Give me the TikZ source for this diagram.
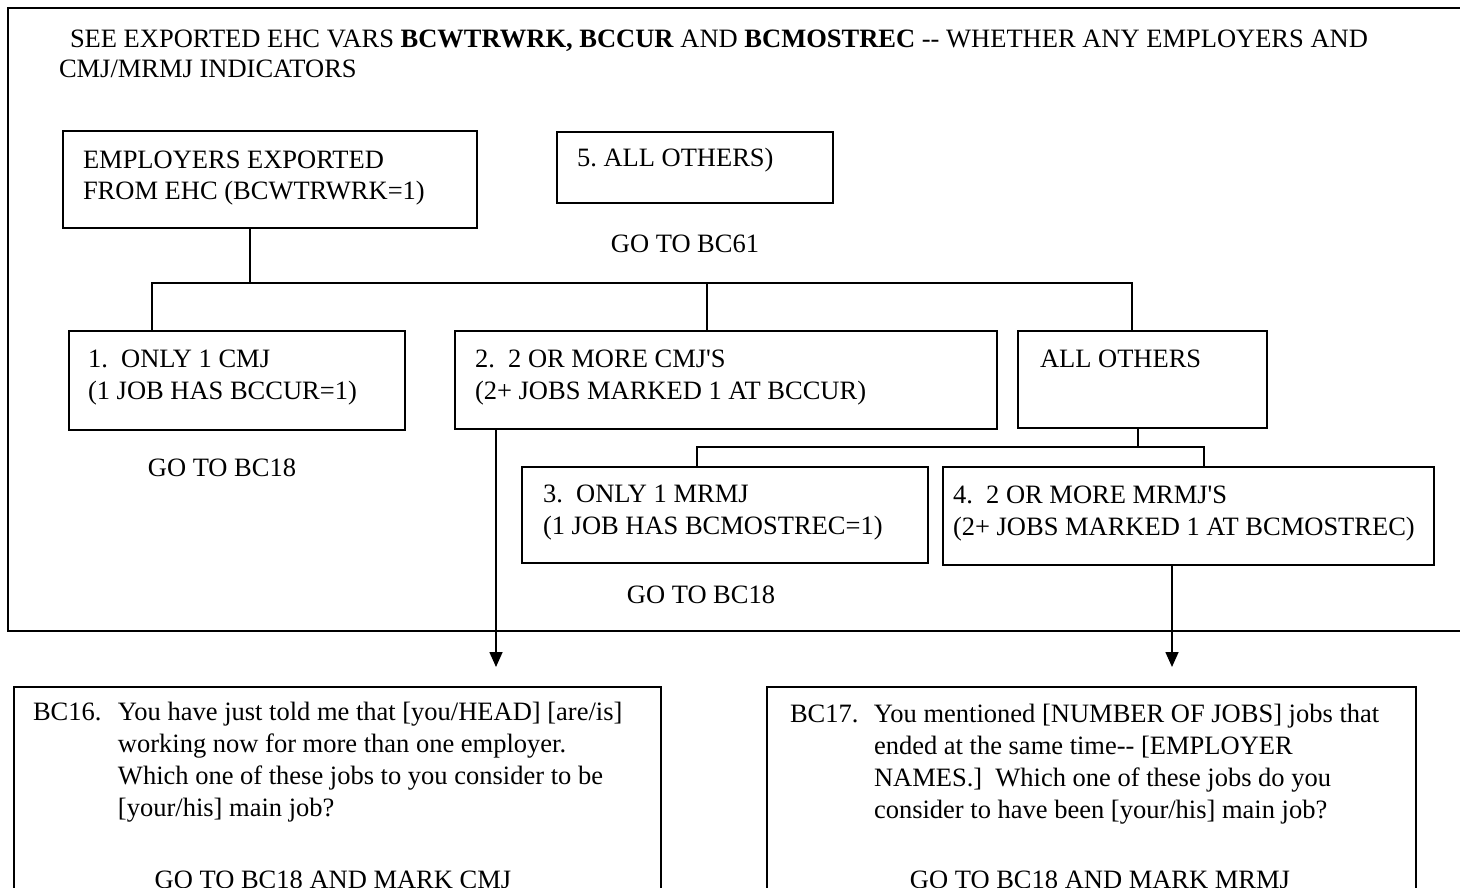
\documentclass[tikz,border=0pt]{standalone}
\usepackage{fontspec}
\setmainfont{Liberation Serif}
\usetikzlibrary{arrows.meta}
\frenchspacing
\begin{document}
\begin{tikzpicture}[x=1pt,y=-1pt,
  every node/.style={inner sep=0pt,outer sep=0pt},
  bx/.style={draw,line width=1.6pt,rectangle,anchor=north west},
  txt/.style={anchor=base west,font=\fontsize{26.5}{32}\selectfont},
  ctxt/.style={anchor=base,font=\fontsize{26.5}{32}\selectfont},
  ln/.style={line width=1.6pt},
  arr/.style={line width=1.6pt,-{Triangle[length=15pt,width=13pt]}}]
\useasboundingbox (0,0) rectangle (1460,888);
\clip (0,0) rectangle (1460,888);
% outer frame
\node[bx,minimum width=1480pt,minimum height=623pt] (outer) at (8,8) {};
\node[txt] (title) at (59,48) {\fontsize{26.5}{30}\selectfont\begin{tabular}[t]{@{}l@{}}\hspace*{11pt}SEE EXPORTED EHC VARS \textbf{BCWTRWRK, BCCUR} AND \textbf{BCMOSTREC} -{}- WHETHER ANY EMPLOYERS AND\\CMJ/MRMJ INDICATORS\end{tabular}};
% boxes
\node[bx,minimum width=414pt,minimum height=97pt] (emp) at (63,131) {};
\node[txt] (empT) at (83,168) {\begin{tabular}[t]{@{}l@{}}EMPLOYERS EXPORTED\\FROM EHC (BCWTRWRK=1)\end{tabular}};
\node[bx,minimum width=276pt,minimum height=71pt] (five) at (557,132) {};
\node[txt] (fiveT) at (577,167) {5. ALL OTHERS)};
\node[ctxt] (go61) at (685,252) {GO TO BC61};
\node[bx,minimum width=336pt,minimum height=99pt] (one) at (69,331) {};
\node[txt] (oneT) at (88,367) {\begin{tabular}[t]{@{}l@{}}1.\ \ ONLY 1 CMJ\\(1 JOB HAS BCCUR=1)\end{tabular}};
\node[ctxt] (go18a) at (222,476) {GO TO BC18};
\node[bx,minimum width=542pt,minimum height=98pt] (two) at (455,331) {};
\node[txt] (twoT) at (475,367) {\begin{tabular}[t]{@{}l@{}}2.\ \ 2 OR MORE CMJ\textquotesingle S\\(2+ JOBS MARKED 1 AT BCCUR)\end{tabular}};
\node[bx,minimum width=249pt,minimum height=97pt] (allo) at (1018,331) {};
\node[txt] (alloT) at (1040,367) {ALL OTHERS};
\node[bx,minimum width=406pt,minimum height=96pt] (three) at (522,467) {};
\node[txt] (threeT) at (543,502) {\begin{tabular}[t]{@{}l@{}}3.\ \ ONLY 1 MRMJ\\(1 JOB HAS BCMOSTREC=1)\end{tabular}};
\node[bx,minimum width=491pt,minimum height=98pt] (four) at (943,467) {};
\node[txt] (fourT) at (953,503) {\begin{tabular}[t]{@{}l@{}}4.\ \ 2 OR MORE MRMJ\textquotesingle S\\(2+ JOBS MARKED 1 AT BCMOSTREC)\end{tabular}};
\node[ctxt] (go18b) at (701,603) {GO TO BC18};
\node[bx,minimum width=647pt,minimum height=260pt] (bcsixteen) at (14,687) {};
\node[txt] (bcsixteenT) at (33,720) {\begin{tabular}[t]{@{}p{85pt}@{}l@{}}BC16.&You have just told me that [you/HEAD] [are/is]\\&working now for more than one employer.\\&Which one of these jobs to you consider to be\\&[your/his] main job?\end{tabular}};
\node[ctxt] (gocmj) at (333,888) {GO TO BC18 AND MARK CMJ};
\node[bx,minimum width=649pt,minimum height=260pt] (bcseventeen) at (767,687) {};
\node[txt] (bcseventeenT) at (790,722) {\begin{tabular}[t]{@{}p{84pt}@{}l@{}}BC17.&You mentioned [NUMBER OF JOBS] jobs that\\&ended at the same time-{}- [EMPLOYER\\&NAMES.]\ \ Which one of these jobs do you\\&consider to have been [your/his] main job?\end{tabular}};
\node[ctxt] (gomrmj) at (1100,888) {GO TO BC18 AND MARK MRMJ};
% connectors
\coordinate (h1) at (152,283);
\coordinate (h2) at (707,283);
\coordinate (h3) at (1132,283);
\coordinate (e1) at (250,228);
\draw[ln] (e1) -- (e1 |- h1);
\draw[ln] (h1 |- one.north) -- (h1) -- (h3) -- (h3 |- allo.north);
\draw[ln] (h2) -- (h2 |- two.north);
\coordinate (a1) at (1138,428);
\coordinate (k1) at (697,447);
\coordinate (k2) at (1204,447);
\draw[ln] (a1) -- (a1 |- k1);
\draw[ln] (k1 |- three.north) -- (k1) -- (k2) -- (k2 |- four.north);
\coordinate (s2) at (496,429);
\coordinate (t2) at (496,667);
\draw[arr] (s2) -- (t2);
\coordinate (s4) at (1172,565);
\coordinate (t4) at (1172,667);
\draw[arr] (s4) -- (t4);
\end{tikzpicture}
\end{document}
